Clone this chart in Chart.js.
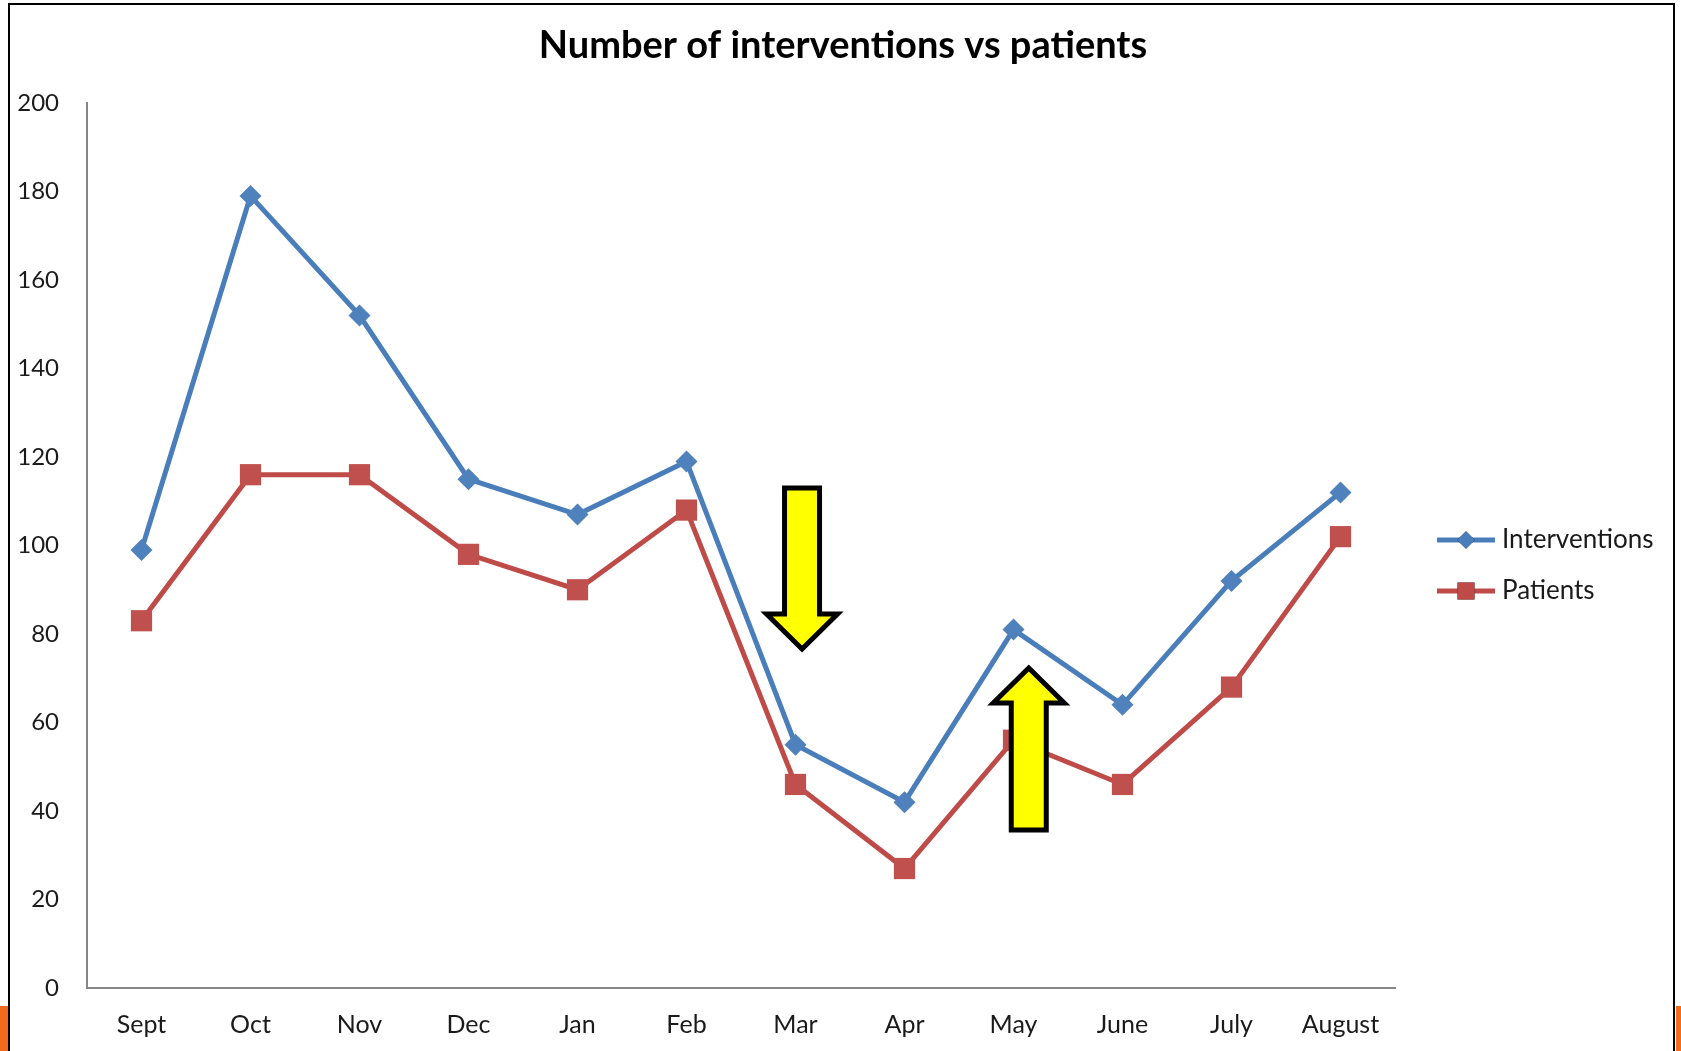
<!DOCTYPE html>
<html>
<head>
<meta charset="utf-8">
<script src="https://cdn.jsdelivr.net/npm/chart.js@4.4.0/dist/chart.umd.min.js"></script>
<style>
  html, body { margin: 0; padding: 0; background: #fff; overflow: hidden; }
  #wrap { position: relative; width: 1681px; height: 1051px; }
</style>
</head>
<body>
<div id="wrap"><canvas id="chart" width="1681" height="1051"></canvas></div>
<script>
const months = ["Sept", "Oct", "Nov", "Dec", "Jan", "Feb", "Mar", "Apr", "May", "June", "July", "August"];
const interventions = [99, 179, 152, 115, 107, 119, 55, 42, 81, 64, 92, 112];
const patients = [83, 116, 116, 98, 90, 108, 46, 27, 56, 46, 68, 102];
const chartTitle = "Number of interventions vs patients";
// yellow arrows: category position, tail value, tip value
const arrows = [
  { at: 6.06, from: 113, to: 76.6 },
  { at: 8.14, from: 35.7, to: 72.3 },
];

const FONT = "Lato, 'Liberation Sans', sans-serif";
const BLUE = "#4a7ebb";
const RED = "#be4b48";

const frame = {
  id: "frame",
  beforeDraw(chart) {
    const c = chart.ctx;
    c.save();
    c.fillStyle = "#fff";
    c.fillRect(0, 0, chart.width, chart.height);
    c.fillStyle = "#f26b1d";
    c.fillRect(0, 1006, 8, 45);
    c.fillRect(1676, 1006, 5, 45);
    c.strokeStyle = "#000";
    c.lineWidth = 2;
    c.beginPath();
    c.moveTo(9, 1051);
    c.lineTo(9, 4);
    c.lineTo(1674, 4);
    c.lineTo(1674, 1051);
    c.stroke();
    // title
    c.fillStyle = "#000";
    c.font = "bold 38px " + FONT;
    c.textAlign = "center";
    c.textBaseline = "middle";
    c.fillText(chartTitle, 843, 46);
    c.restore();
  },
};

function drawArrow(c, cx, yTail, yTip) {
  const shaft = 17.5, head = 35.5, headH = 35;
  const dir = yTip > yTail ? 1 : -1;
  const yBase = yTip - dir * headH;
  c.beginPath();
  c.moveTo(cx - shaft, yTail);
  c.lineTo(cx + shaft, yTail);
  c.lineTo(cx + shaft, yBase);
  c.lineTo(cx + head, yBase);
  c.lineTo(cx, yTip);
  c.lineTo(cx - head, yBase);
  c.lineTo(cx - shaft, yBase);
  c.closePath();
  c.fillStyle = "#ffff00";
  c.fill();
  c.lineWidth = 5;
  c.lineJoin = "miter";
  c.strokeStyle = "#000";
  c.stroke();
}

const extras = {
  id: "extras",
  afterDatasetsDraw(chart) {
    const c = chart.ctx;
    const x = chart.scales.x, y = chart.scales.y;
    c.save();
    arrows.forEach((a) => {
      const i = Math.floor(a.at);
      const px = x.getPixelForValue(i) + (a.at - i) * (x.getPixelForValue(1) - x.getPixelForValue(0));
      drawArrow(c, px, y.getPixelForValue(a.from), y.getPixelForValue(a.to));
    });
    c.restore();
  },
  afterDraw(chart) {
    const c = chart.ctx;
    c.save();
    chart.data.datasets.forEach((ds, k) => {
      const ly = 540 + k * 51;
      c.strokeStyle = ds.borderColor;
      c.lineWidth = 5;
      c.beginPath();
      c.moveTo(1437, ly);
      c.lineTo(1495, ly);
      c.stroke();
      Chart.helpers.drawPoint(c, { pointStyle: ds.pointStyle, radius: ds.pointRadius * 0.8, borderWidth: 0 }, 1466, ly);
      c.fillStyle = ds.borderColor;
      c.fill();
      c.fillStyle = "#1a1a1a";
      c.font = "26px " + FONT;
      c.textBaseline = "middle";
      c.fillText(ds.label, 1502, ly);
    });
    c.restore();
  },
};

new Chart(document.getElementById("chart"), {
  type: "line",
  data: {
    labels: months,
    datasets: [
      {
        label: "Interventions",
        data: interventions,
        borderColor: BLUE,
        backgroundColor: BLUE,
        pointBackgroundColor: "#4f81bd",
        pointBorderWidth: 0,
        borderWidth: 5,
        pointStyle: "rectRot",
        pointRadius: 11,
        tension: 0,
      },
      {
        label: "Patients",
        data: patients,
        borderColor: RED,
        backgroundColor: RED,
        pointBackgroundColor: "#c0504d",
        pointBorderWidth: 0,
        borderWidth: 5,
        pointStyle: "rect",
        pointRadius: 15,
        tension: 0,
      },
    ],
  },
  options: {
    responsive: false,
    animation: false,
    events: [],
    layout: { padding: { left: 0, right: 286, top: 103, bottom: 0 } },
    plugins: {
      legend: { display: false },
      tooltip: { enabled: false },
      title: { display: false },
    },
    scales: {
      x: {
        offset: true,
        grid: { display: true, drawOnChartArea: false, drawTicks: false, offset: true },
        border: { color: "#868686", width: 2 },
        ticks: { color: "#1a1a1a", font: { family: FONT, size: 25 }, padding: 22, maxRotation: 0 },
        afterFit(s) { s.height = 63; },
      },
      y: {
        min: 0,
        max: 200,
        grid: { display: true, drawOnChartArea: false, drawTicks: false },
        border: { color: "#868686", width: 2 },
        ticks: { stepSize: 20, color: "#1a1a1a", font: { family: FONT, size: 24 }, padding: 28 },
        afterFit(s) { s.width = 87; },
      },
    },
  },
  plugins: [frame, extras],
});
</script>
</body>
</html>
